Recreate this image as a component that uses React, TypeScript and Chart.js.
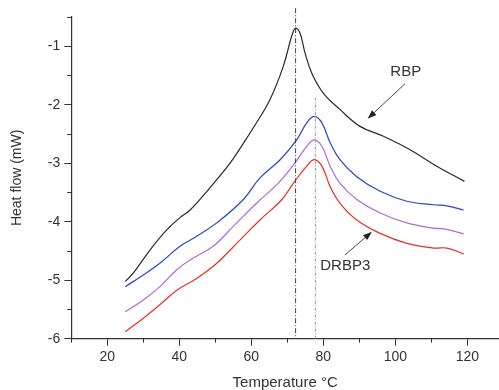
import React, { useEffect, useRef } from "react";
import { Chart, registerables } from "chart.js";

Chart.register(...registerables);

// ---- data ----
const rbpT = [25, 27.2, 31.9, 36.5, 40.2, 43, 48.5, 54.1, 57.8, 60.6, 65.2, 68.9, 71.2, 72.3, 73.5, 74.9, 76.8, 80, 84.6, 90.2, 96.7, 104.1, 111.5, 119.2];
const rbpH = [-5.02, -4.88, -4.48, -4.14, -3.93, -3.8, -3.42, -3.0, -2.66, -2.39, -1.91, -1.34, -0.83, -0.69, -0.77, -1.11, -1.46, -1.8, -2.08, -2.37, -2.54, -2.77, -3.05, -3.31];

const blueT = [25, 30, 34.6, 40.2, 44.8, 50.4, 57.8, 62.4, 68, 72.6, 75.4, 77.5, 79.6, 81.9, 84.6, 89.3, 95.8, 103.2, 110.6, 114.3, 119];
const blueH = [-5.11, -4.91, -4.71, -4.42, -4.25, -4.02, -3.62, -3.25, -2.94, -2.6, -2.31, -2.2, -2.31, -2.65, -2.94, -3.23, -3.48, -3.65, -3.71, -3.73, -3.8];

const purpleT = [25, 30, 34.6, 39.3, 43.9, 49.4, 55, 61.5, 67.5, 71.7, 75.4, 77.5, 79.6, 81.9, 84.6, 89.3, 95.8, 103.2, 110.6, 114.3, 119];
const purpleH = [-5.54, -5.34, -5.11, -4.82, -4.62, -4.42, -4.08, -3.68, -3.34, -3.03, -2.71, -2.6, -2.71, -3.05, -3.34, -3.62, -3.85, -4.02, -4.11, -4.13, -4.21];

const drbp3T = [25, 30, 34.6, 39.3, 44.8, 50.4, 56.9, 62.4, 68.5, 71.7, 75.4, 77.5, 79.6, 81.9, 84.6, 89.3, 95.8, 103.2, 110.6, 114.3, 119];
const drbp3H = [-5.88, -5.65, -5.42, -5.17, -4.97, -4.71, -4.31, -3.97, -3.62, -3.34, -3.05, -2.94, -3.05, -3.4, -3.68, -3.97, -4.2, -4.37, -4.45, -4.45, -4.55];

// peak reference lines: temperature, top value
const peakLineT = [72.3, 77.8];
const peakLineTop = [-0.35, -1.88];

// annotation labels and arrows
const labelText = ["RBP", "DRBP3"];
const labelX = [102.9, 86.1];
const labelY = [-1.43, -4.75];
const arrowFrom = [[102.7, -1.64], [86.0, -4.57]];
const arrowTo = [[92.3, -2.24], [93.5, -4.17]];

const xTitle = "Temperature \u00B0C";
const yTitle = "Heat flow (mW)";

const FONT = "'Liberation Sans', Arial, sans-serif";
const AXIS = "#333";

const toXY = (t: number[], h: number[]) => t.map((x, i) => ({ x, y: h[i] }));

export default function App() {
  const ref = useRef<HTMLCanvasElement | null>(null);

  useEffect(() => {
    document.body.style.margin = "0";
    const canvas = ref.current!;

    const overlay = {
      id: "overlay",
      afterDatasetsDraw(chart: any) {
        const { ctx, scales, chartArea } = chart;
        const xs = scales.x;
        const ys = scales.y;
        ctx.save();
        peakLineT.forEach((t, i) => {
          const px = xs.getPixelForValue(t);
          ctx.beginPath();
          ctx.strokeStyle = i === 0 ? "#444" : "#999";
          ctx.lineWidth = 1;
          ctx.setLineDash(i === 0 ? [5, 2, 1, 2] : [3, 1.5, 1, 1.5]);
          ctx.moveTo(px, ys.getPixelForValue(peakLineTop[i]));
          ctx.lineTo(px, chartArea.bottom);
          ctx.stroke();
        });
        ctx.setLineDash([]);
        arrowFrom.forEach((f, i) => {
          const x1 = xs.getPixelForValue(f[0]);
          const y1 = ys.getPixelForValue(f[1]);
          const x2 = xs.getPixelForValue(arrowTo[i][0]);
          const y2 = ys.getPixelForValue(arrowTo[i][1]);
          const ang = Math.atan2(y2 - y1, x2 - x1);
          const hl = 9, hw = 3.2;
          ctx.strokeStyle = "#333";
          ctx.fillStyle = "#222";
          ctx.lineWidth = 0.9;
          ctx.beginPath();
          ctx.moveTo(x1, y1);
          ctx.lineTo(x2 - hl * Math.cos(ang), y2 - hl * Math.sin(ang));
          ctx.stroke();
          ctx.beginPath();
          ctx.moveTo(x2, y2);
          ctx.lineTo(x2 - hl * Math.cos(ang) + hw * Math.sin(ang), y2 - hl * Math.sin(ang) - hw * Math.cos(ang));
          ctx.lineTo(x2 - hl * Math.cos(ang) - hw * Math.sin(ang), y2 - hl * Math.sin(ang) + hw * Math.cos(ang));
          ctx.closePath();
          ctx.fill();
        });
        ctx.fillStyle = "#333";
        ctx.font = `15px ${FONT}`;
        ctx.textAlign = "center";
        ctx.textBaseline = "middle";
        labelText.forEach((txt, i) => {
          ctx.fillText(txt, xs.getPixelForValue(labelX[i]), ys.getPixelForValue(labelY[i]));
        });
        ctx.strokeStyle = AXIS;
        ctx.lineWidth = 1;
        xs.ticks.forEach((tk: any) => {
          if (tk.value % 20 !== 0) {
            const px = Math.round(xs.getPixelForValue(tk.value)) + 0.5;
            ctx.beginPath();
            ctx.moveTo(px, chartArea.bottom);
            ctx.lineTo(px, chartArea.bottom + 4);
            ctx.stroke();
          }
        });
        ys.ticks.forEach((tk: any) => {
          if (!Number.isInteger(tk.value)) {
            const py = Math.round(ys.getPixelForValue(tk.value)) + 0.5;
            ctx.beginPath();
            ctx.moveTo(chartArea.left, py);
            ctx.lineTo(chartArea.left - 4, py);
            ctx.stroke();
          }
        });
        ctx.restore();
      },
    };

    const line = (label: string, t: number[], h: number[], color: string) => ({
      label,
      data: toXY(t, h),
      borderColor: color,
      backgroundColor: color,
      borderWidth: 1.2,
      pointRadius: 0,
      tension: 0.4,
      fill: false,
    });

    const chart = new Chart(canvas, {
      type: "line",
      data: {
        datasets: [
          line("RBP", rbpT, rbpH, "#2a2a2a"),
          line("Blue", blueT, blueH, "#2747c4"),
          line("Purple", purpleT, purpleH, "#b06ad6"),
          line("DRBP3", drbp3T, drbp3H, "#e2312b"),
        ],
      },
      options: {
        animation: false,
        responsive: false,
        layout: { padding: { top: 17, right: 0, left: 0, bottom: 0 } },
        plugins: { legend: { display: false }, tooltip: { enabled: false } },
        scales: {
          x: {
            type: "linear",
            min: 10,
            max: 128.8,
            afterFit: (s: any) => {
              s.height = 51.3;
            },
            ticks: {
              stepSize: 10,
              includeBounds: false,
              color: AXIS,
              font: { family: FONT, size: 14 },
              padding: 3,
              maxRotation: 0,
              autoSkip: false,
              callback: (v: any) => (v % 20 === 0 && v !== 0 ? String(v) : ""),
            },
            grid: {
              drawOnChartArea: false,
              drawTicks: true,
              tickLength: 7,
              color: (c: any) => (c.tick && c.tick.value % 20 === 0 ? AXIS : "rgba(0,0,0,0)"),
            },
            border: { display: true, color: AXIS, width: 1.2 },
            title: {
              display: true,
              text: xTitle,
              color: AXIS,
              font: { family: FONT, size: 15, lineHeight: 1 },
              padding: { top: 0, bottom: 0 },
            },
          },
          y: {
            type: "linear",
            min: -6,
            max: -0.5,
            afterFit: (s: any) => {
              s.width = 71.3;
            },
            ticks: {
              stepSize: 0.5,
              color: AXIS,
              font: { family: FONT, size: 14 },
              padding: 4,
              autoSkip: false,
              callback: (v: any) => (Number.isInteger(v) ? String(v) : ""),
            },
            grid: {
              drawOnChartArea: false,
              drawTicks: true,
              tickLength: 7,
              color: (c: any) => (c.tick && Number.isInteger(c.tick.value) ? AXIS : "rgba(0,0,0,0)"),
            },
            border: { display: true, color: AXIS, width: 1.2 },
            title: {
              display: true,
              text: yTitle,
              color: AXIS,
              font: { family: FONT, size: 14, lineHeight: 1 },
              padding: { top: 10, bottom: 0 },
            },
          },
        },
      },
      plugins: [overlay],
    });

    return () => chart.destroy();
  }, []);

  return (
    <div style={{ width: 499, height: 390 }}>
      <canvas ref={ref} width={499} height={390} />
    </div>
  );
}
